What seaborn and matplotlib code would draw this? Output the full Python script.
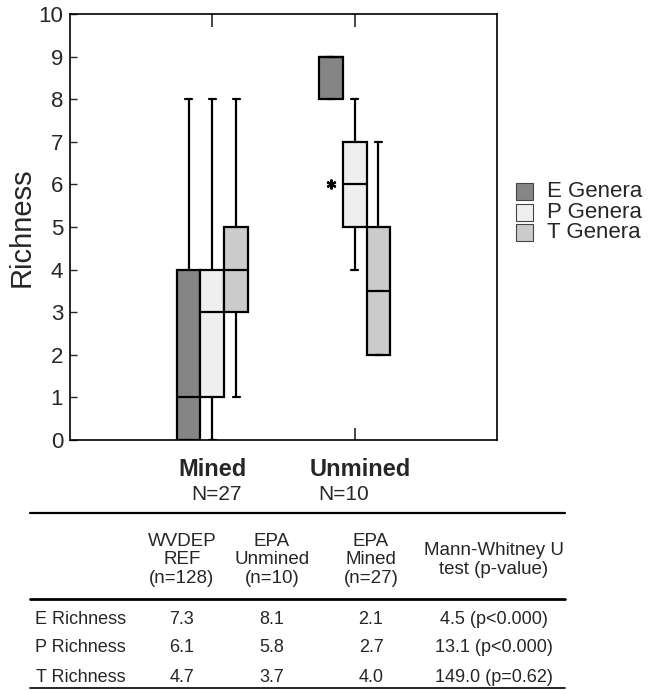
import matplotlib
matplotlib.use("Agg")
import matplotlib.pyplot as plt
import seaborn as sns
from matplotlib.patches import Rectangle
from matplotlib.lines import Line2D

sns.set_style("ticks")
plt.rcParams['font.family'] = ['Liberation Sans', 'DejaVu Sans']

# ---------------- data ----------------
groups = ["Mined", "Unmined"]
group_n = ["N=27", "N=10"]
genera = ["E Genera", "P Genera", "T Genera"]
colors = ["#858585", "#efefef", "#cbcbcb"]

# box statistics (per group: E, P, T)
whislo = [[0, 0, 1], [8, 4, 2]]
q1     = [[0, 1, 3], [8, 5, 2]]
med    = [[1, 3, 4], [9, 6, 3.5]]
q3     = [[4, 4, 5], [9, 7, 5]]
whishi = [[8, 8, 8], [9, 8, 7]]
fliers = [[[], [], []], [[6], [], []]]

# table
col_headers = ["WVDEP\nREF\n(n=128)", "EPA\nUnmined\n(n=10)", "EPA\nMined\n(n=27)",
               "Mann-Whitney U\ntest (p-value)"]
row_labels = ["E Richness", "P Richness", "T Richness"]
wvdep = ["7.3", "6.1", "4.7"]
epa_unmined = ["8.1", "5.8", "3.7"]
epa_mined = ["2.1", "2.7", "4.0"]
mann_whitney = ["4.5 (p<0.000)", "13.1 (p<0.000)", "149.0 (p=0.62)"]

# ---------------- figure ----------------
W, H = 657, 690
fig = plt.figure(figsize=(W / 100, H / 100), dpi=100)

def fx(px):
    return px / W

def fy(py):
    return 1 - py / H

ax = fig.add_axes([fx(70), fy(440), fx(497) - fx(70), fy(14) - fy(440)])

offsets = [-0.167, 0.0, 0.167]
width = 0.167
for gi, g in enumerate(groups):
    for k in range(3):
        st = [dict(whislo=whislo[gi][k], q1=q1[gi][k], med=med[gi][k],
                   q3=q3[gi][k], whishi=whishi[gi][k], fliers=fliers[gi][k])]
        ax.bxp(st, positions=[gi + 1 + offsets[k]], widths=width,
               patch_artist=True, capwidths=0.05, manage_ticks=False,
               boxprops=dict(facecolor=colors[k], edgecolor="black", linewidth=1.6),
               medianprops=dict(color="black", linewidth=1.6),
               whiskerprops=dict(color="black", linewidth=1.6),
               capprops=dict(color="black", linewidth=1.6),
               flierprops=dict(marker=(6, 2, 0), markersize=7, markeredgewidth=1.6,
                               markeredgecolor="black", markerfacecolor="black"))

ax.set_xlim(0, 3)
ax.set_ylim(0, 10)
ax.set_xticks([1, 2])
ax.set_xticklabels(["", ""])
ax.set_yticks(range(0, 11))
ax.tick_params(axis="x", direction="in", length=9, width=1.2, top=True)
ax.tick_params(axis="y", direction="in", length=5, width=1.0, labelsize=16, pad=5)
for s in ax.spines.values():
    s.set_visible(True)
    s.set_linewidth(1.2)
    s.set_color("black")
ax.set_ylabel("Richness", fontsize=21)
ax.yaxis.set_label_coords(-0.08, 0.5)

# group labels
lbl_x = [1.0, 2.04]
n_x = [1.026, 1.92]
for gi in range(2):
    ax.text(lbl_x[gi], -0.0704, groups[gi], transform=ax.get_xaxis_transform(),
            ha="center", va="center", fontsize=17, fontweight="bold")
    ax.text(n_x[gi], -0.129, group_n[gi], transform=ax.get_xaxis_transform(),
            ha="center", va="center", fontsize=15)

# legend (manual, tight spacing as in reference)
leg_y = [192, 213, 233]
for k in range(3):
    fig.patches.append(Rectangle((fx(516), fy(leg_y[k] + 8)), fx(17), (fy(0) - fy(17)),
                                 transform=fig.transFigure, facecolor=colors[k],
                                 edgecolor="#444444", linewidth=0.8))
    fig.text(fx(547), fy(leg_y[k]), genera[k], ha="left", va="center", fontsize=16)

# table
tx0, tx1 = 30, 565
fig.add_artist(Line2D([fx(tx0), fx(tx1)], [fy(513), fy(513)], color="black", linewidth=1.6))
fig.add_artist(Line2D([fx(tx0), fx(tx1)], [fy(599), fy(599)], color="black", linewidth=2.0))
fig.add_artist(Line2D([fx(tx0), fx(tx1)], [fy(688), fy(688)], color="black", linewidth=1.2))

col_x = [182, 272, 371, 494]
for ci, h in enumerate(col_headers):
    fig.text(fx(col_x[ci]), fy(560), h, ha="center", va="center", fontsize=13.5,
             linespacing=1.15, multialignment="center")

row_y = [619, 648, 677]
cols = [wvdep, epa_unmined, epa_mined, mann_whitney]
for ri in range(3):
    fig.text(fx(126), fy(row_y[ri]), row_labels[ri], ha="right", va="center", fontsize=13)
    for ci in range(4):
        fig.text(fx(col_x[ci]), fy(row_y[ri]), cols[ci][ri], ha="center", va="center",
                 fontsize=13)

fig.savefig("out.png", dpi=100)
